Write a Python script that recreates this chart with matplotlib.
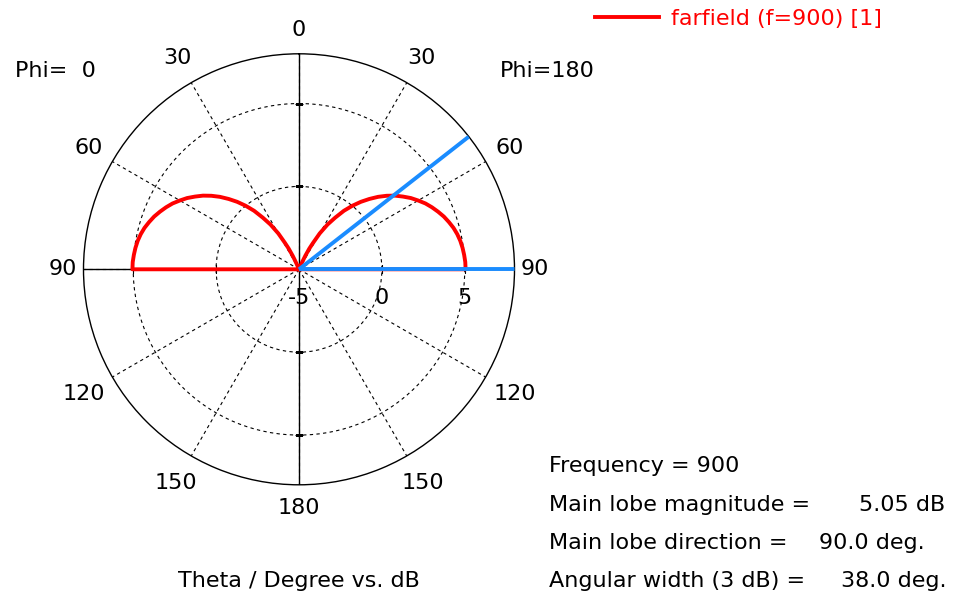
import matplotlib.pyplot as plt
import numpy as np

# farfield cut, theta in degrees (same on phi=0 and phi=180 half-planes)
theta_deg = [0, 20, 22, 23, 24, 25, 26.5, 28, 30, 32.5, 35, 37.5, 40, 42.5, 45, 47.5,
             50, 52.5, 55, 57.5, 60, 62.5, 65, 67.5, 70, 72.5, 75, 77.5, 80, 82.5,
             85, 87.5, 90, 90, 180]
gain_db = [-5, -5, -5, -4.9, -4.5, -4.1, -3.6, -3.2, -2.5, -1.8, -1.2, -0.55, 0.0, 0.52,
           1.0, 1.47, 1.9, 2.3, 2.65, 3.0, 3.3, 3.6, 3.85, 4.08, 4.3, 4.48, 4.65, 4.78,
           4.88, 4.95, 5.0, 5.04, 5.05, -5, -5]

frequency = 900
main_lobe_mag = 5.05
main_lobe_dir = 90.0
angular_width = 38.0

r_min, r_max = -5, 8
r_ticks = [-5, 0, 5]
angle_ticks = [0, 30, 60, 90, 120, 150, 180]

W, H = 963, 596
cx, cy, rad = 299, 269.3, 215.5
scale = rad / (r_max - r_min)
red = '#ff0000'
blue = '#1a8cff'
fs = 16

plt.rcParams['font.family'] = ['DejaVu Sans']

fig = plt.figure(figsize=(W / 100, H / 100), dpi=100)
ax = fig.add_axes([(cx - rad) / W, (H - cy - rad) / H, 2 * rad / W, 2 * rad / H],
                  projection='polar')
ax.set_theta_zero_location('N')
ax.set_theta_direction(-1)
ax.set_ylim(r_min, r_max)

ax.set_thetagrids(range(0, 360, 30), labels=[])
ax.set_rgrids([0, 5], labels=[])
ax.grid(True, color='black', linestyle=(0, (3, 3)), linewidth=0.8)
ax.spines['polar'].set_linewidth(1.0)
ax.tick_params(length=0)

# solid main axes
for a in (0, 90, 180, 270):
    ax.plot([np.radians(a)] * 2, [r_min, r_max], color='black', lw=1.0, zorder=3)
ax.plot(np.radians([90, 90, 270, 270]), [0, 5, 0, 5], ls='none', marker='|',
        ms=6, mew=0.8, color='black', zorder=3)
ax.plot(np.radians([0, 0, 180, 180]), [0, 5, 0, 5], ls='none', marker='_',
        ms=6, mew=0.8, color='black', zorder=3)

# trace: phi=0 on the left (theta 180 -> 0), then phi=180 on the right (0 -> 180)
th = np.array(theta_deg, dtype=float)
g = np.array(gain_db, dtype=float)
pos = np.concatenate([360 - th[::-1], th])
vals = np.concatenate([g[::-1], g])
line, = ax.plot(np.radians(pos), vals, color=red, lw=2.8, zorder=4,
                solid_joinstyle='round', label='farfield (f=900) [1]')

# main lobe direction and 3 dB edge
for a in (main_lobe_dir, main_lobe_dir - angular_width):
    ax.plot([np.radians(a)] * 2, [r_min, r_max], color=blue, lw=2.8, zorder=5,
            solid_capstyle='butt')

# angle labels
label_px = {0: 239, 30: 244, 60: 243, 90: 236, 120: 249, 150: 247, 180: 239}
for a in angle_ticks:
    sides = [a] if a in (0, 180) else [a, 360 - a]
    for p in sides:
        ax.text(np.radians(p), r_min + label_px[a] / scale, str(a), ha='center',
                va='center', fontsize=fs, clip_on=False)

for r in r_ticks:
    ax.annotate(str(r), xy=(np.pi / 2, r), xytext=(0, -29), textcoords='offset pixels',
                ha='center', va='center', fontsize=fs)


def ftext(x, y, s, **kw):
    fig.text(x / W, 1 - y / H, s, fontsize=fs, **kw)


ftext(15, 77, 'Phi=  0', va='baseline')
ftext(500, 77, 'Phi=180', va='baseline')
ftext(299, 587, 'Theta / Degree vs. dB', ha='center', va='baseline')

ftext(549, 472, f'Frequency = {frequency}', va='baseline')
ftext(549, 511, 'Main lobe magnitude =', va='baseline')
ftext(945, 511, f'{main_lobe_mag:.2f} dB', ha='right', va='baseline')
ftext(549, 549, 'Main lobe direction =', va='baseline')
ftext(925, 549, f'{main_lobe_dir:.1f} deg.', ha='right', va='baseline')
ftext(549, 587, 'Angular width (3 dB) =', va='baseline')
ftext(946, 587, f'{angular_width:.1f} deg.', ha='right', va='baseline')

fig.legend(handles=[line], loc='center left', bbox_to_anchor=(595 / W, 1 - 19 / H),
           frameon=False, fontsize=fs, labelcolor=red, handlelength=2.9,
           handletextpad=0.5, borderpad=0, borderaxespad=0)

fig.savefig('out.png', dpi=100)
